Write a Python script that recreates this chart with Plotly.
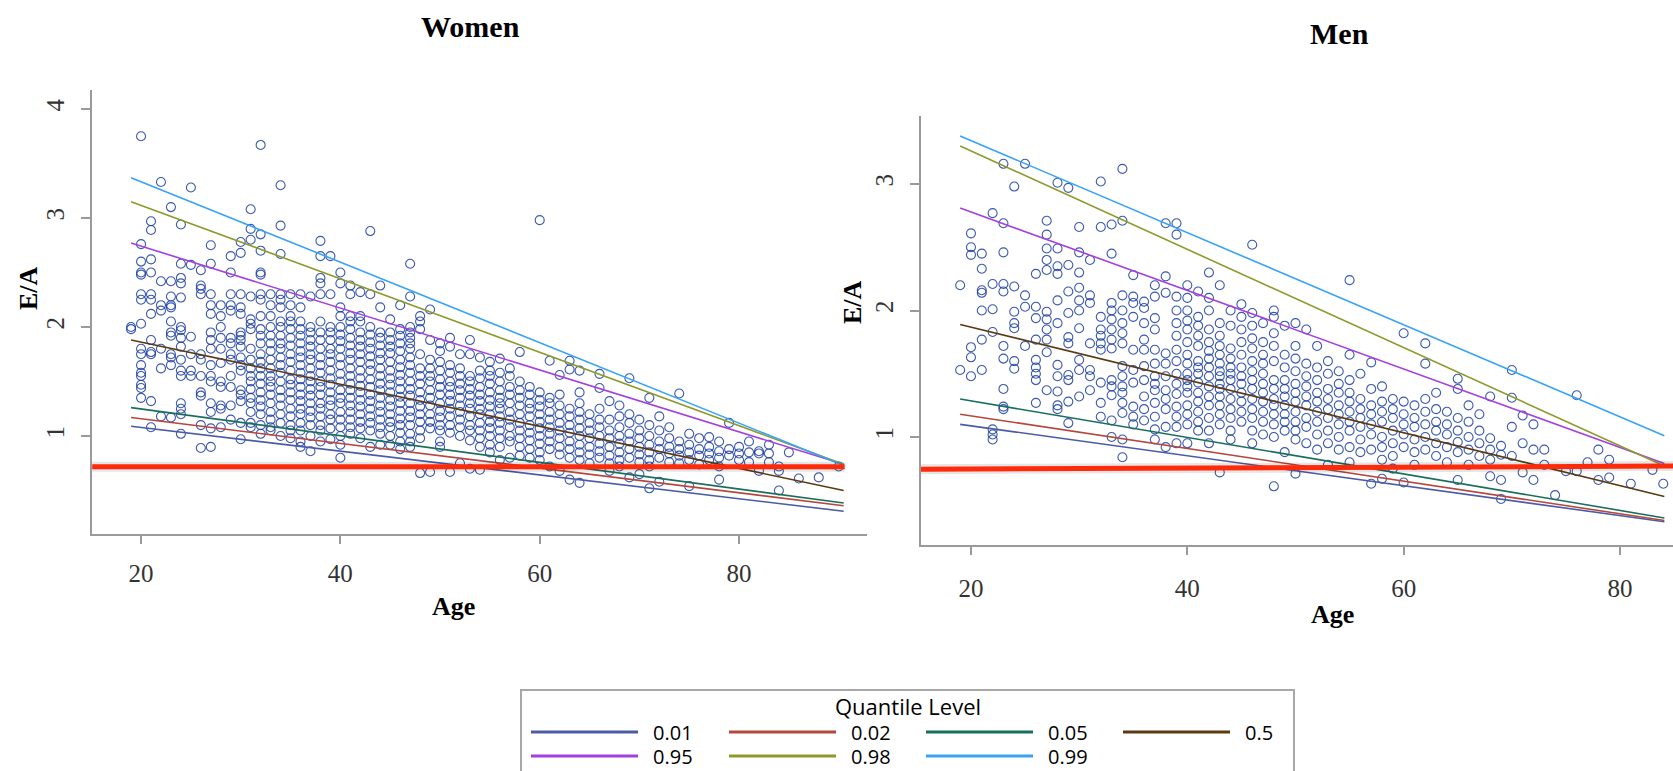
import plotly.graph_objects as go

W, H = 1673, 771

# ---------------- data ----------------
quantile_levels = ["0.01", "0.02", "0.05", "0.5", "0.95", "0.98", "0.99"]
quantile_colors = ["#4b5ba6", "#b5473f", "#1a6e5c", "#5b3a12", "#a43fe0", "#8c9a2c", "#38a3f5"]

women_q_age = [19.0, 90.5]
women_q_start = [1.09, 1.17, 1.26, 1.88, 2.77, 3.15, 3.37]
women_q_end = [0.31, 0.36, 0.385, 0.50, 0.74, 0.74, 0.73]

men_q_age = [19.0, 84.1]
men_q_start = [1.10, 1.18, 1.30, 1.89, 2.81, 3.30, 3.38]
men_q_end = [0.33, 0.34, 0.36, 0.53, 0.79, 0.77, 1.01]

women_cutoff_age = [15.1, 90.6]
women_cutoff_ea = [0.718, 0.718]
men_cutoff_age = [15.0, 84.9]
men_cutoff_ea = [0.745, 0.77]

women_ages = list(range(19, 86)) + [86, 88, 90]
women_ea = [
    [2.0, 1.98],
    [3.75, 2.76, 2.6, 2.5, 2.48, 2.3, 2.25, 2.03, 1.8, 1.75, 1.65, 1.58, 1.55, 1.47, 1.44, 1.35],
    [2.97, 2.89, 2.62, 2.5, 2.3, 2.25, 2.12, 1.88, 1.77, 1.75, 1.32, 1.08],
    [3.33, 2.42, 2.2, 2.15, 1.8, 1.62, 1.18],
    [3.1, 2.42, 2.28, 2.2, 2.18, 2.05, 1.95, 1.92, 1.75, 1.72, 1.65, 1.17],
    [2.94, 2.58, 2.45, 2.4, 2.27, 2.0, 1.97, 1.9, 1.82, 1.7, 1.6, 1.55, 1.3, 1.25, 1.2, 1.02],
    [3.28, 2.57, 1.91, 1.75, 1.6, 1.55],
    [2.52, 2.38, 2.35, 2.3, 1.75, 1.7, 1.55, 1.4, 1.37, 1.1, 0.89],
    [2.75, 2.58, 2.3, 2.2, 2.12, 1.95, 1.88, 1.8, 1.65, 1.55, 1.5, 1.3, 1.22, 1.07, 0.9],
    [2.2, 2.1, 2.0, 1.9, 1.8, 1.67, 1.5, 1.45, 1.28, 1.25, 1.08],
    [2.65, 2.5, 2.3, 2.2, 2.15, 1.9, 1.85, 1.75, 1.7, 1.55, 1.45, 1.28, 1.15],
    [2.78, 2.68, 2.3, 2.18, 2.12, 1.95, 1.92, 1.88, 1.82, 1.72, 1.65, 1.6, 1.42, 1.38, 1.32, 1.12, 0.97],
    [3.08, 2.9, 2.8, 2.28, 2.07, 2.03, 1.98, 1.8, 1.7, 1.62, 1.55, 1.5, 1.43, 1.35, 1.3, 1.22, 1.12, 1.08],
    [3.67, 2.85, 2.7, 2.5, 2.48, 2.3, 2.25, 2.1, 1.98, 1.92, 1.85, 1.75, 1.68, 1.62, 1.55, 1.48, 1.4, 1.33, 1.27, 1.2, 1.1, 1.02],
    [2.3, 2.2, 2.1, 2.0, 1.92, 1.85, 1.78, 1.7, 1.62, 1.55, 1.5, 1.45, 1.38, 1.3, 1.22, 1.15, 1.08, 1.05],
    [3.3, 2.93, 2.67, 2.3, 2.25, 2.18, 2.05, 2.0, 1.92, 1.85, 1.8, 1.72, 1.65, 1.58, 1.5, 1.42, 1.35, 1.28, 1.2, 1.12, 1.0],
    [2.3, 2.2, 2.1, 2.05, 1.98, 1.9, 1.83, 1.75, 1.68, 1.6, 1.52, 1.47, 1.4, 1.33, 1.25, 1.18, 1.1, 1.05, 0.98],
    [2.3, 2.18, 2.05, 1.98, 1.92, 1.85, 1.78, 1.72, 1.65, 1.58, 1.52, 1.45, 1.38, 1.32, 1.25, 1.2, 1.12, 1.05, 0.95, 0.9],
    [2.28, 2.0, 1.95, 1.88, 1.82, 1.75, 1.7, 1.62, 1.55, 1.5, 1.43, 1.37, 1.3, 1.23, 1.17, 1.1, 1.0, 0.86],
    [2.79, 2.65, 2.45, 2.4, 2.3, 2.05, 1.95, 1.88, 1.8, 1.72, 1.65, 1.58, 1.5, 1.45, 1.38, 1.3, 1.25, 1.18, 1.1, 1.05, 0.95],
    [2.65, 2.3, 2.0, 1.95, 1.88, 1.8, 1.75, 1.68, 1.6, 1.53, 1.47, 1.4, 1.33, 1.28, 1.2, 1.15, 1.07, 0.97],
    [2.5, 2.4, 2.18, 2.1, 2.0, 1.93, 1.87, 1.8, 1.72, 1.65, 1.57, 1.5, 1.42, 1.35, 1.3, 1.22, 1.15, 1.08, 1.0, 0.92, 0.8],
    [2.38, 2.3, 2.1, 2.05, 1.98, 1.9, 1.83, 1.76, 1.7, 1.62, 1.55, 1.48, 1.42, 1.35, 1.28, 1.22, 1.15, 1.08, 1.02],
    [2.32, 2.1, 2.05, 1.95, 1.88, 1.82, 1.75, 1.68, 1.6, 1.53, 1.46, 1.4, 1.33, 1.27, 1.2, 1.13, 1.07, 0.98],
    [2.88, 2.3, 2.0, 1.93, 1.86, 1.8, 1.73, 1.66, 1.6, 1.52, 1.45, 1.38, 1.32, 1.25, 1.18, 1.12, 1.05, 0.9],
    [2.38, 2.18, 1.95, 1.9, 1.83, 1.76, 1.7, 1.62, 1.55, 1.48, 1.42, 1.35, 1.28, 1.22, 1.15, 1.08, 1.02, 0.92],
    [2.07, 1.95, 1.88, 1.82, 1.76, 1.68, 1.6, 1.53, 1.47, 1.4, 1.33, 1.27, 1.2, 1.13, 1.08, 1.0, 0.92],
    [2.2, 1.98, 1.92, 1.85, 1.78, 1.7, 1.63, 1.56, 1.5, 1.43, 1.36, 1.3, 1.23, 1.16, 1.1, 1.03, 0.95, 0.88],
    [2.58, 2.28, 2.0, 1.95, 1.9, 1.85, 1.8, 1.72, 1.65, 1.58, 1.5, 1.43, 1.37, 1.3, 1.23, 1.17, 1.1, 1.02, 0.95, 0.9],
    [2.1, 2.05, 1.98, 1.75, 1.62, 1.55, 1.48, 1.4, 1.33, 1.27, 1.2, 1.13, 1.05, 0.98, 0.66],
    [2.16, 1.88, 1.7, 1.62, 1.55, 1.5, 1.42, 1.35, 1.28, 1.2, 1.13, 1.07, 0.67],
    [1.85, 1.78, 1.68, 1.6, 1.52, 1.45, 1.38, 1.3, 1.23, 1.17, 1.1, 1.05, 0.95, 0.9],
    [1.9, 1.82, 1.65, 1.58, 1.5, 1.45, 1.38, 1.32, 1.25, 1.18, 1.1, 1.03, 0.67],
    [1.75, 1.62, 1.55, 1.48, 1.42, 1.35, 1.28, 1.22, 1.15, 1.08, 1.0, 0.75],
    [1.88, 1.75, 1.55, 1.5, 1.43, 1.37, 1.3, 1.25, 1.18, 1.1, 1.05, 0.96, 0.7],
    [1.72, 1.6, 1.53, 1.45, 1.38, 1.32, 1.25, 1.2, 1.12, 1.05, 0.98, 0.9, 0.69],
    [1.68, 1.6, 1.55, 1.48, 1.4, 1.33, 1.27, 1.2, 1.13, 1.07, 1.0, 0.92, 0.85],
    [1.71, 1.58, 1.5, 1.42, 1.35, 1.3, 1.25, 1.18, 1.12, 1.05, 0.98, 0.9, 0.78],
    [1.62, 1.55, 1.45, 1.38, 1.3, 1.22, 1.15, 1.08, 1.0, 0.95, 0.8],
    [1.77, 1.5, 1.42, 1.35, 1.28, 1.2, 1.12, 1.05, 0.98, 0.9, 0.82],
    [1.45, 1.38, 1.3, 1.25, 1.18, 1.1, 1.03, 0.96, 0.88, 0.8],
    [2.98, 1.4, 1.33, 1.27, 1.2, 1.13, 1.07, 1.0, 0.93, 0.85, 0.78],
    [1.69, 1.35, 1.3, 1.22, 1.15, 1.08, 1.02, 0.95, 0.88, 0.72],
    [1.56, 1.38, 1.28, 1.2, 1.12, 1.05, 0.98, 0.9, 0.83, 0.68],
    [1.69, 1.61, 1.25, 1.18, 1.1, 1.03, 0.95, 0.88, 0.8, 0.6],
    [1.6, 1.4, 1.3, 1.22, 1.15, 1.07, 1.0, 0.92, 0.85, 0.78, 0.57],
    [1.2, 1.12, 1.05, 0.98, 0.9, 0.83, 0.75],
    [1.57, 1.44, 1.25, 1.15, 1.08, 1.0, 0.93, 0.86, 0.8],
    [1.32, 1.15, 1.05, 0.98, 0.9, 0.82, 0.75, 0.68],
    [1.28, 1.18, 1.08, 1.0, 0.93, 0.85, 0.78, 0.72],
    [1.53, 1.2, 1.12, 1.02, 0.95, 0.88, 0.8, 0.62],
    [1.15, 1.05, 0.98, 0.9, 0.83, 0.76, 0.65],
    [1.35, 1.1, 1.0, 0.92, 0.85, 0.78, 0.72, 0.52],
    [1.18, 1.05, 0.95, 0.88, 0.8, 0.58],
    [1.08, 0.98, 0.9, 0.84, 0.76],
    [1.39, 0.95, 0.88, 0.82, 0.75],
    [1.02, 0.92, 0.85, 0.78, 0.54],
    [0.98, 0.88, 0.82, 0.74],
    [0.99, 0.9, 0.84, 0.78],
    [0.95, 0.86, 0.8, 0.72, 0.6],
    [1.12, 0.88, 0.82],
    [0.9, 0.84, 0.78],
    [0.95, 0.85, 0.76],
    [0.86, 0.84, 0.68],
    [0.92, 0.84, 0.76],
    [0.72, 0.68, 0.5],
    [0.85],
    [0.61],
    [0.62],
    [0.72],
]

men_ages = list(range(19, 80)) + [81, 83, 84]
men_ea = [
    [2.2, 1.53],
    [2.61, 2.5, 2.44, 1.71, 1.63, 1.48],
    [2.45, 2.33, 2.16, 2.14, 2.0, 1.77, 1.53],
    [2.77, 2.21, 2.01, 1.83, 1.06, 1.02, 0.98],
    [3.16, 2.69, 2.46, 2.21, 2.15, 1.72, 1.62, 1.38, 1.24, 1.22],
    [2.98, 2.19, 1.99, 1.9, 1.86, 1.6, 1.54],
    [3.16, 2.12, 2.03, 1.72],
    [2.29, 2.03, 1.94, 1.77, 1.61, 1.55, 1.5, 1.45, 1.27],
    [2.71, 2.6, 2.49, 2.4, 2.32, 1.99, 1.93, 1.85, 1.77, 1.67, 1.37],
    [3.01, 2.49, 2.35, 2.29, 2.08, 1.9, 1.57, 1.48, 1.36, 1.25, 1.22],
    [2.97, 2.36, 2.15, 1.98, 1.79, 1.74, 1.49, 1.45, 1.28, 1.11],
    [2.66, 2.46, 2.3, 2.18, 2.08, 2.0, 1.86, 1.61, 1.53, 1.32],
    [2.4, 2.12, 2.06, 1.74, 1.53, 1.48, 1.37],
    [3.02, 2.66, 1.95, 1.85, 1.8, 1.74, 1.69, 1.43, 1.27, 1.16],
    [2.68, 2.45, 2.06, 2.0, 1.93, 1.85, 1.77, 1.7, 1.45, 1.4, 1.33, 1.13, 1.0],
    [3.12, 2.71, 2.12, 2.0, 1.9, 1.82, 1.74, 1.56, 1.48, 1.4, 1.35, 1.27, 1.19, 0.98, 0.84],
    [2.28, 2.11, 2.06, 1.95, 1.69, 1.53, 1.43, 1.24, 1.16, 1.1],
    [2.07, 2.02, 1.9, 1.77, 1.69, 1.56, 1.45, 1.32, 1.22, 1.13],
    [2.2, 2.11, 1.94, 1.85, 1.69, 1.58, 1.48, 1.42, 1.37, 1.27, 1.16, 1.06, 0.98],
    [2.69, 2.27, 2.14, 1.66, 1.58, 1.48, 1.37, 1.3, 1.22, 1.08, 0.92],
    [2.69, 2.6, 2.11, 2.0, 1.9, 1.8, 1.69, 1.6, 1.5, 1.42, 1.34, 1.24, 1.16, 1.08, 0.95],
    [2.2, 2.1, 2.0, 1.92, 1.85, 1.75, 1.65, 1.58, 1.5, 1.45, 1.4, 1.35, 1.25, 1.18, 1.1, 0.95],
    [2.15, 1.95, 1.88, 1.8, 1.72, 1.6, 1.55, 1.5, 1.43, 1.35, 1.28, 1.2, 1.12, 1.05],
    [2.3, 2.1, 2.0, 1.85, 1.75, 1.68, 1.62, 1.55, 1.48, 1.4, 1.32, 1.25, 1.15, 1.05, 0.95],
    [2.2, 1.9, 1.8, 1.72, 1.65, 1.58, 1.52, 1.48, 1.42, 1.38, 1.32, 1.25, 1.18, 1.1, 0.72],
    [2.0, 1.88, 1.7, 1.62, 1.55, 1.5, 1.45, 1.38, 1.3, 1.22, 1.15, 1.05, 0.98],
    [2.05, 1.95, 1.85, 1.75, 1.65, 1.55, 1.48, 1.42, 1.35, 1.28, 1.2, 1.12],
    [2.52, 1.98, 1.88, 1.78, 1.7, 1.6, 1.52, 1.45, 1.38, 1.3, 1.22, 1.15, 1.05, 0.95],
    [1.9, 1.75, 1.65, 1.58, 1.5, 1.42, 1.35, 1.28, 1.2, 1.12, 1.02],
    [2.0, 1.95, 1.82, 1.72, 1.6, 1.45, 1.38, 1.3, 1.25, 1.18, 1.1, 1.0, 0.61],
    [1.88, 1.65, 1.55, 1.45, 1.38, 1.32, 1.25, 1.18, 1.12, 1.05, 0.88],
    [1.9, 1.72, 1.62, 1.52, 1.42, 1.35, 1.28, 1.2, 1.12, 1.05, 0.98, 0.71],
    [1.85, 1.58, 1.48, 1.4, 1.32, 1.25, 1.15, 1.08, 0.95],
    [1.72, 1.55, 1.45, 1.35, 1.28, 1.2, 1.12, 1.02, 0.9],
    [1.6, 1.5, 1.38, 1.3, 1.22, 1.15, 1.05, 0.95, 0.78],
    [1.52, 1.42, 1.35, 1.25, 1.18, 1.1, 1.0, 0.9],
    [2.24, 1.65, 1.45, 1.35, 1.28, 1.2, 1.12, 1.05, 0.92, 0.8],
    [1.5, 1.3, 1.22, 1.15, 1.08, 0.98, 0.88],
    [1.59, 1.38, 1.25, 1.18, 1.1, 1.02, 0.9, 0.63],
    [1.4, 1.28, 1.2, 1.12, 1.0, 0.92, 0.82, 0.67],
    [1.3, 1.22, 1.15, 1.05, 0.95, 0.85, 0.75],
    [1.82, 1.28, 1.18, 1.1, 1.02, 0.92, 0.64],
    [1.25, 1.15, 1.08, 0.98, 0.88, 0.78],
    [1.74, 1.58, 1.3, 1.2, 1.1, 1.0, 0.9],
    [1.35, 1.22, 1.12, 1.05, 0.95, 0.85],
    [1.2, 1.1, 1.02, 0.92, 0.8],
    [1.46, 1.38, 1.15, 1.05, 0.96, 0.88, 0.66],
    [1.25, 1.12, 1.0, 0.9, 0.78],
    [1.18, 1.05, 0.95, 0.85],
    [1.32, 0.99, 0.9, 0.82, 0.69],
    [0.93, 0.86, 0.66, 0.51],
    [1.53, 1.31, 1.08, 0.85],
    [1.17, 0.95, 0.72],
    [1.1, 0.9, 0.66],
    [0.9, 0.78],
    [0.54],
    [0.73],
    [1.33, 0.73],
    [0.8],
    [0.66, 0.9],
    [0.82, 0.68],
    [0.63],
    [0.74],
    [0.63],
]

x_ticks = [20, 40, 60, 80]
women_y_ticks = [1, 2, 3, 4]
men_y_ticks = [1, 2, 3]


def flatten(ages, groups):
    xs, ys = [], []
    for a, vals in zip(ages, groups):
        for v in vals:
            xs.append(a)
            ys.append(v)
    return xs, ys


fig = go.Figure()

panels = [
    ("x", "y", women_ages, women_ea, women_q_age, women_q_start, women_q_end, women_cutoff_age, women_cutoff_ea),
    ("x2", "y2", men_ages, men_ea, men_q_age, men_q_start, men_q_end, men_cutoff_age, men_cutoff_ea),
]

for i, (xa, ya, ages, groups, qa, qs, qe, ca, ce) in enumerate(panels):
    px, py = flatten(ages, groups)
    fig.add_trace(go.Scatter(
        x=px, y=py, mode="markers", xaxis=xa, yaxis=ya, showlegend=False,
        marker=dict(symbol="circle-open", size=9, color="rgba(25,60,160,0.85)", line=dict(width=1.1)),
        hoverinfo="skip",
    ))
    for lvl, col, s, e in zip(quantile_levels, quantile_colors, qs, qe):
        fig.add_trace(go.Scatter(
            x=qa, y=[s, e], mode="lines", xaxis=xa, yaxis=ya, name=lvl,
            legendgroup=lvl, showlegend=False,
            line=dict(color=col, width=1.6),
        ))
    fig.add_trace(go.Scatter(
        x=ca, y=ce, mode="lines", xaxis=xa, yaxis=ya, showlegend=False,
        line=dict(color="rgba(0,0,0,0.10)", width=10), hoverinfo="skip",
    ))
    fig.add_trace(go.Scatter(
        x=ca, y=ce, mode="lines", xaxis=xa, yaxis=ya, showlegend=False,
        line=dict(color="#ff2a0a", width=5), hoverinfo="skip",
    ))

axis_gray = "#9a9a9a"
tick_font = dict(family="Liberation Serif", size=25, color="#333333")

common_x = dict(showline=True, linecolor=axis_gray, linewidth=2, ticks="outside", ticklen=8,
                tickcolor=axis_gray, tickwidth=2, showgrid=False, zeroline=False,
                tickvals=x_ticks, tickfont=tick_font)
common_y = dict(showline=True, linecolor=axis_gray, linewidth=2, ticks="outside", ticklen=9,
                tickcolor=axis_gray, tickwidth=2, showgrid=False, zeroline=False,
                tickangle=-90, tickfont=tick_font)

fig.update_layout(
    width=W, height=H,
    margin=dict(l=0, r=0, t=0, b=0),
    paper_bgcolor="white", plot_bgcolor="white",
    showlegend=False,
    xaxis=dict(domain=[92 / W, 867 / W], range=[15.08, 92.84], anchor="y",
               ticklabelstandoff=8, **common_x),
    yaxis=dict(domain=[(H - 534) / H, (H - 90) / H], range=[0.101, 4.174], anchor="x",
               tickvals=women_y_ticks, ticklabelstandoff=7, **common_y),
    xaxis2=dict(domain=[921 / W, 1.0], range=[15.38, 84.9], anchor="y2",
                ticklabelstandoff=12, **common_x),
    yaxis2=dict(domain=[(H - 545) / H, (H - 116) / H], range=[0.146, 3.538], anchor="x2",
                tickvals=men_y_ticks, ticklabelstandoff=7, **common_y),
)


def P(px, py):
    return px / W, 1 - py / H


annotations = []
title_font = dict(family="Liberation Serif", size=30, color="black")
lab_font = dict(family="Liberation Serif", size=26, color="black")
for text, (cx, cy), f, ang in [
    ("<b>Women</b>", (470, 27), title_font, 0),
    ("<b>Men</b>", (1339, 34), title_font, 0),
    ("<b>Age</b>", (453, 606), lab_font, 0),
    ("<b>Age</b>", (1332, 614), lab_font, 0),
    ("<b>E/A</b>", (28, 288), lab_font, -90),
    ("<b>E/A</b>", (853, 302), lab_font, -90),
]:
    x, y = P(cx, cy)
    annotations.append(dict(text=text, x=x, y=y, xref="paper", yref="paper",
                            xanchor="center", yanchor="middle", showarrow=False,
                            font=f, textangle=ang))

# legend (drawn manually to mimic the SAS layout)
shapes = []
lx0, ly0 = P(521, 690)
lx1, ly1 = P(1294, 775)
shapes.append(dict(type="rect", xref="paper", yref="paper", x0=lx0, y0=ly1, x1=lx1, y1=ly0,
                   line=dict(color="#a8a8a8", width=2), fillcolor="rgba(0,0,0,0)"))
tx, ty = P(908, 706)
annotations.append(dict(text="Quantile Level", x=tx, y=ty, xref="paper", yref="paper",
                        xanchor="center", yanchor="middle", showarrow=False,
                        font=dict(family="Open Sans", size=22, color="black")))
col_x = [531, 729, 926, 1123]
row_y = [732, 756]
for k, (lvl, col) in enumerate(zip(quantile_levels, quantile_colors)):
    r, c = divmod(k, 4)
    x0, y0 = P(col_x[c], row_y[r])
    x1, _ = P(col_x[c] + 107, row_y[r])
    shapes.append(dict(type="line", xref="paper", yref="paper", x0=x0, y0=y0, x1=x1, y1=y0,
                       line=dict(color=col, width=3)))
    txp, typ = P(col_x[c] + 120, row_y[r])
    annotations.append(dict(text=lvl, x=txp, y=typ, xref="paper", yref="paper",
                            xanchor="left", yanchor="middle", showarrow=False,
                            font=dict(family="Open Sans", size=20, color="black")))

fig.update_layout(annotations=annotations, shapes=shapes)

fig.write_html("out.html")
